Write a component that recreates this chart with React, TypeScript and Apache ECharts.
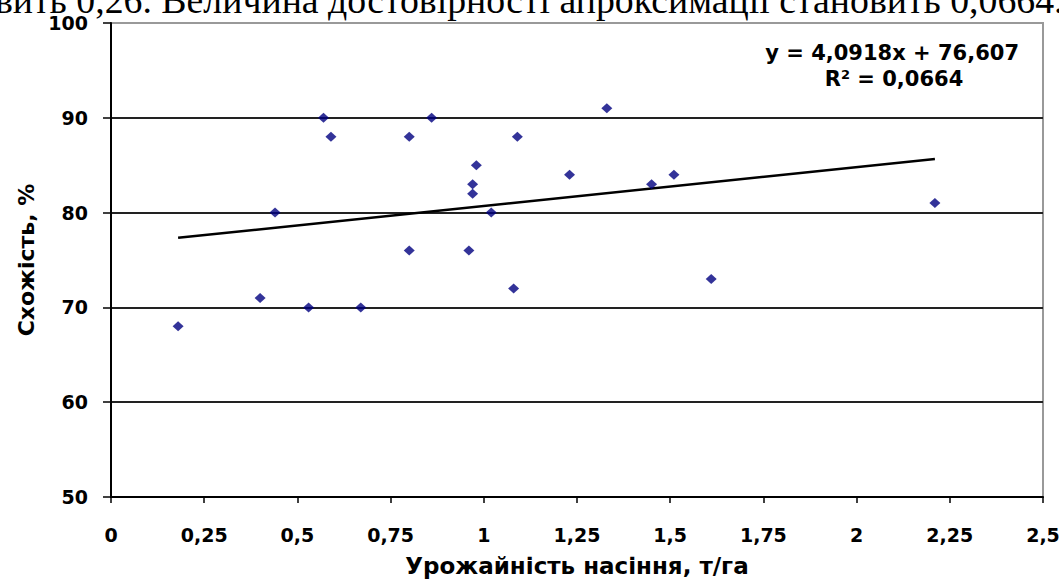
import React, { useEffect, useRef } from "react";
import * as echarts from "echarts";

const xValues = [0.18, 0.4, 0.44, 0.53, 0.57, 0.59, 0.67, 0.8, 0.8, 0.86, 0.96, 0.97, 0.97, 0.98, 1.02, 1.08, 1.09, 1.23, 1.33, 1.45, 1.51, 1.61, 2.21];
const yValues = [68, 71, 80, 70, 90, 88, 70, 88, 76, 90, 76, 83, 82, 85, 80, 72, 88, 84, 91, 83, 84, 73, 81];
const slope = 4.0918;
const intercept = 76.607;
const trendX = [0.18, 2.21];
const xTickLabels = ["0", "0,25", "0,5", "0,75", "1", "1,25", "1,5", "1,75", "2", "2,25", "2,5"];
const topText = "вить 0,26. Величина достовірності апроксимації становить 0,0664.";

export default function App() {
  const ref = useRef<HTMLDivElement>(null);
  useEffect(() => {
    if (!ref.current) return;
    const chart = echarts.init(ref.current, undefined, { renderer: "svg" });
    const pts = xValues.map((x, i) => [x, yValues[i]]);
    const trend = trendX.map((x) => [x, slope * x + intercept]);
    const font = "'DejaVu Sans', sans-serif";
    chart.setOption({
      animation: false,
      backgroundColor: "#fff",
      grid: {
        left: 111,
        right: 16,
        top: 23,
        bottom: 83,
        outerBoundsMode: "none",
        containLabel: false,
        show: true,
        borderColor: "#999",
        borderWidth: 2,
      },
      xAxis: {
        type: "value",
        min: 0,
        max: 2.5,
        interval: 0.25,
        name: "Урожайність насіння, т/га",
        nameLocation: "middle",
        nameGap: 57,
        nameTextStyle: { fontFamily: font, fontWeight: "bold", fontSize: 23, color: "#000" },
        axisLine: { lineStyle: { color: "#000", width: 2 } },
        axisTick: { show: true, length: 6, lineStyle: { color: "#000", width: 1.5 } },
        axisLabel: {
          margin: 28,
          fontFamily: font,
          fontWeight: "bold",
          fontSize: 19,
          color: "#000",
          formatter: (v: number) => xTickLabels[Math.round(v / 0.25)] ?? "",
        },
        splitLine: { show: false },
      },
      yAxis: {
        type: "value",
        min: 50,
        max: 100,
        interval: 10,
        name: "Схожість, %",
        nameLocation: "middle",
        nameGap: 73,
        nameTextStyle: { fontFamily: font, fontWeight: "bold", fontSize: 22, color: "#000" },
        axisLine: { show: true, lineStyle: { color: "#000", width: 2 } },
        axisTick: { show: true, length: 8, lineStyle: { color: "#000", width: 1.5 } },
        axisLabel: { margin: 23, fontFamily: font, fontWeight: "bold", fontSize: 19, color: "#000" },
        splitLine: {
          show: true,
          lineStyle: { color: ["transparent", "#222", "#222", "#222", "#222", "#999"], width: 2 },
        },
      },
      series: [
        {
          type: "scatter",
          data: pts,
          symbol: "diamond",
          symbolSize: [11, 10],
          itemStyle: { color: "#000080" },
          z: 3,
        },
        {
          type: "line",
          data: trend,
          showSymbol: false,
          symbol: "none",
          lineStyle: { color: "#000", width: 2.5 },
          z: 2,
        },
      ],
      graphic: [
        {
          type: "text",
          left: -5,
          top: -19,
          style: { text: topText, font: "37.8px 'Liberation Serif', 'Times New Roman', serif", fill: "#000" },
          z: 10,
        },
        {
          type: "text",
          x: 1019,
          y: 53,
          style: {
            text: "y = 4,0918x + 76,607",
            fontFamily: font,
            fontWeight: "bold",
            fontSize: 21,
            fill: "#000",
            align: "right",
            verticalAlign: "middle",
          },
        },
        {
          type: "text",
          x: 894,
          y: 79,
          style: {
            text: "{a|R}{s|2}{a| = 0,0664}",
            align: "center",
            verticalAlign: "middle",
            rich: {
              a: { fontFamily: font, fontWeight: "bold", fontSize: 21, color: "#000" },
              s: { fontFamily: font, fontWeight: "bold", fontSize: 13, color: "#000", verticalAlign: "top", padding: [0, 0, 10, 0] },
            },
          },
        },
      ],
    });
    return () => chart.dispose();
  }, []);
  return <div ref={ref} style={{ position: "fixed", left: 0, top: 0, width: 1059, height: 580 }} />;
}
